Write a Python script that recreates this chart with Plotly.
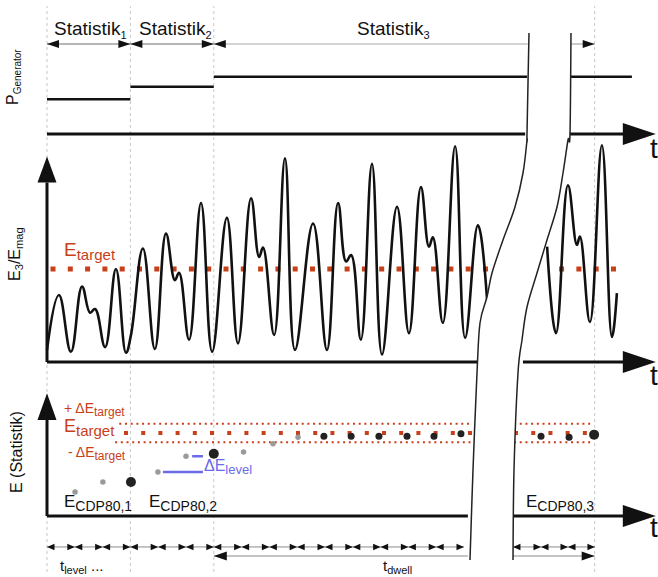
import plotly.graph_objects as go

FONT = "Liberation Sans"
W, H = 658, 577
BLACK = "#111111"
ORANGE = "#c8401a"
BLUE = "#6b6bea"
GRAY_DOT = "#9a9a9a"
DARK_DOT = "#222222"

# ======================= DATA =======================
# time axis in units of t_level (t = 0 at start of Statistik_1); the axis is broken
STAT_BOUNDARY_T = [0, 3, 6, 19.7]
STAT_LABELS = ["Statistik<sub><span style='font-size:11px'>1</span></sub>",
               "Statistik<sub><span style='font-size:11px'>2</span></sub>",
               "Statistik<sub><span style='font-size:11px'>3</span></sub>"]
STAT_ARROW_T0 = [0, 3, 6, 18.85]
STAT_ARROW_T1 = [3, 6, 17.3, 19.7]
STAT_ARROW_LEVEL = 9.0

# generator power steps
P_T0 = [0, 3, 6, 18.85]
P_T1 = [3, 6, 17.27, 21.04]
P_LEVEL = [3.47, 4.73, 5.73, 5.73]

# E3/Emag waveform (before and after the break)
WAVE_L_T = [0.00, 0.43, 0.86, 1.26, 1.55, 1.73, 2.09, 2.48, 2.84, 3.02, 3.45, 3.88, 4.28, 4.60, 4.75,
            5.11, 5.54, 5.94, 6.47, 6.87, 7.34, 7.63, 7.77, 8.17, 8.56, 8.92, 9.57, 10.07, 10.47,
            10.76, 10.94, 11.29, 11.69, 12.05, 12.59, 13.02, 13.45, 13.74, 13.88, 14.24, 14.68,
            15.04, 15.50, 15.83]
WAVE_L_E = [0.13, 0.72, 0.11, 0.81, 0.53, 0.57, 0.16, 1.00, 0.10, 0.29, 1.22, 0.14, 1.38, 0.88, 0.96,
            0.24, 1.71, 0.11, 1.55, 0.20, 1.76, 1.13, 1.23, 0.29, 2.19, 0.13, 1.49, 0.13, 1.71,
            1.08, 1.15, 0.24, 2.13, 0.08, 1.67, 0.31, 1.88, 1.24, 1.34, 0.42, 2.32,
            0.26, 1.47, 0.67]
WAVE_R_T = [17.99, 18.31, 18.74, 19.06, 19.17, 19.53, 19.96, 20.32, 20.50]
WAVE_R_E = [1.24, 0.31, 1.90, 1.26, 1.35, 0.43, 2.33, 0.27, 0.74]

E_TARGET = 1.0
DELTA_E_TARGET = 0.11
TARGET_W_T = [(0.126, 15.94), (18.42, 20.5)]       # E_target line, waveform panel
TARGET_S_T = [(2.77, 15.29), (16.8, 19.46)]         # E_target line, statistic panel
PLUS_S_T = [(2.6, 15.25), (16.8, 19.6)]
MINUS_S_T = [(2.45, 15.25), (16.8, 19.6)]

# statistic values E_CDP80 per t_level
STAT_T = [1.01, 2.01, 3.02, 3.99, 5.0, 6.0, 7.07, 8.13, 9.03, 9.96, 10.94, 11.94, 12.95,
          13.92, 14.89, 17.77, 18.78, 19.68]
STAT_E = [0.29, 0.41, 0.41, 0.53, 0.72, 0.75, 0.77, 0.87, 0.95, 0.96, 0.96, 0.96, 0.96,
          0.96, 0.99, 0.96, 0.95, 0.98]
STAT_KIND = ["g", "g", "B", "g", "g", "B", "g", "g", "g", "d", "d", "d", "d",
             "d", "d", "d", "d", "B"]

# Delta E_level markers
LEVEL_T0 = [4.17, 5.22]
LEVEL_T1 = [5.61, 5.61]
LEVEL_E = [0.53, 0.72]

# t_level grid and t_dwell
TLEVEL_BOUNDS_L = list(range(0, 16))
TLEVEL_BOUNDS_R = [16.76, 17.77, 18.74, 19.71]
TDWELL_L = (6, 15.14)
TDWELL_R = (16.76, 19.7)
TLEVEL_ROW = -0.373
TDWELL_ROW = -0.482

# axis extents (broken axes)
AXIS_SEGMENTS = [("y", 0, 17.2), ("y", 18.78, 20.72),
                 ("y2", 0, 15.47), ("y2", 17.12, 20.72),
                 ("y3", 0, 15.14), ("y3", 16.76, 20.72)]
AXIS_TIP_T = 21.9
YAXIS_TOP = {"y2": (1.93, 2.21), "y3": (1.157, 1.48)}

# ======================= LAYOUT HELPERS =======================
X0_PX, PX_PER_T = 47.0, 27.8
ZERO_PY = {"y": 134.0, "y2": 362.0, "y3": 516.0}
SCALE = {"y": 10.0, "y2": 93.0, "y3": 83.0}


def tpx(t):
    return X0_PX + PX_PER_T * t


def vpy(v, ax):
    return ZERO_PY[ax] - SCALE[ax] * v


def pp(x, y):
    return x / W, 1 - y / H


def tri(tipx, tipy, dx, dy, L, hw, color=BLACK):
    bx, by = tipx - L * dx, tipy - L * dy
    nx, ny = -dy, dx
    pts = [(tipx, tipy), (bx + hw * nx, by + hw * ny), (bx - hw * nx, by - hw * ny)]
    p = [pp(*q) for q in pts]
    path = "M{:.5f},{:.5f} L{:.5f},{:.5f} L{:.5f},{:.5f} Z".format(*p[0], *p[1], *p[2])
    return dict(type="path", xref="paper", yref="paper", path=path, fillcolor=color,
                line=dict(width=0), layer="above")


def smooth(pts):
    pts = [pp(*q) for q in pts]
    d = "M{:.5f},{:.5f}".format(*pts[0])
    n = len(pts)
    for i in range(n - 1):
        p0 = pts[i - 1] if i > 0 else pts[i]
        p1, p2 = pts[i], pts[i + 1]
        p3 = pts[i + 2] if i + 2 < n else pts[i + 1]
        c1 = (p1[0] + (p2[0] - p0[0]) / 6, p1[1] + (p2[1] - p0[1]) / 6)
        c2 = (p2[0] - (p3[0] - p1[0]) / 6, p2[1] - (p3[1] - p1[1]) / 6)
        d += " C{:.5f},{:.5f} {:.5f},{:.5f} {:.5f},{:.5f}".format(*c1, *c2, *p2)
    return d


traces = []


def lines(xs, ys, ax, color, width, dash=None, shape="linear", smoothing=1.0):
    traces.append(go.Scatter(x=xs, y=ys, yaxis=ax, mode="lines",
                             line=dict(color=color, width=width, dash=dash, shape=shape,
                                       smoothing=smoothing),
                             hoverinfo="skip", showlegend=False, connectgaps=False))


def segs(pairs, level, ax, color, width, dash=None):
    xs, ys = [], []
    for a, b in pairs:
        xs += [a, b, None]
        ys += [level, level, None]
    lines(xs, ys, ax, color, width, dash)


shapes = []

# vertical dotted guides
for t in STAT_BOUNDARY_T:
    shapes.append(dict(type="line", xref="x", yref="paper", x0=t, x1=t,
                       y0=pp(0, 572)[1], y1=pp(0, 6)[1],
                       line=dict(color="#c9c9c9", width=1, dash="dot"), layer="below"))

# Statistik arrows
arrow_cols = ["#6e6e6e", "#6e6e6e", "#a8a8a8", "#a8a8a8"]
for i, (a, b) in enumerate(zip(STAT_ARROW_T0, STAT_ARROW_T1)):
    segs([(a, b)], STAT_ARROW_LEVEL, "y", arrow_cols[i], 1.2)
ya = vpy(STAT_ARROW_LEVEL, "y")
for t in [0, 3, 6]:
    shapes.append(tri(tpx(t), ya, -1, 0, 12, 4))
for t in [3, 6]:
    shapes.append(tri(tpx(t), ya, 1, 0, 12, 4))
shapes.append(tri(tpx(STAT_ARROW_T1[-1]), ya, 1, 0, 12, 4))

# generator steps
xs, ys = [], []
for a, b, v in zip(P_T0, P_T1, P_LEVEL):
    xs += [a, b, None]
    ys += [v, v, None]
lines(xs, ys, "y", BLACK, 2.6)

# axes
for ax, a, b in AXIS_SEGMENTS:
    segs([(a, b)], 0, ax, BLACK, 3)
for ax in ["y", "y2", "y3"]:
    shapes.append(tri(tpx(AXIS_TIP_T), vpy(0, ax), 1, 0, 33, 11))
for ax, (base, tip) in YAXIS_TOP.items():
    lines([0, 0], [0, base], ax, BLACK, 3)
    shapes.append(tri(tpx(0), vpy(tip, ax), 0, -1, vpy(base, ax) - vpy(tip, ax), 9.5))

# waveform panel
segs(TARGET_W_T, E_TARGET, "y2", ORANGE, 5, "5px,12.3px")
lines(WAVE_L_T, WAVE_L_E, "y2", BLACK, 2.6, shape="spline", smoothing=1.2)
lines(WAVE_R_T, WAVE_R_E, "y2", BLACK, 2.6, shape="spline", smoothing=1.2)

# statistic panel
segs(PLUS_S_T, E_TARGET + DELTA_E_TARGET, "y3", ORANGE, 2, "2px,3.7px")
segs(MINUS_S_T, E_TARGET - DELTA_E_TARGET, "y3", ORANGE, 2, "2px,3.7px")
segs(TARGET_S_T, E_TARGET, "y3", ORANGE, 4, "4px,13.2px")
xs, ys = [], []
for a, b, v in zip(LEVEL_T0, LEVEL_T1, LEVEL_E):
    xs += [a, b, None]
    ys += [v, v, None]
lines(xs, ys, "y3", BLUE, 2.5)
kind_style = {"g": (GRAY_DOT, 5.5), "d": (DARK_DOT, 7), "B": (DARK_DOT, 10)}
for k, (col, size) in kind_style.items():
    sel = [i for i, kk in enumerate(STAT_KIND) if kk == k]
    traces.append(go.Scatter(x=[STAT_T[i] for i in sel], y=[STAT_E[i] for i in sel], yaxis="y3",
                             mode="markers", marker=dict(color=col, size=size, line=dict(width=0)),
                             hoverinfo="skip", showlegend=False))

# t_level row
bounds_pairs = list(zip(TLEVEL_BOUNDS_L[:-1], TLEVEL_BOUNDS_L[1:])) + \
    list(zip(TLEVEL_BOUNDS_R[:-1], TLEVEL_BOUNDS_R[1:]))
segs(bounds_pairs, TLEVEL_ROW, "y3", "#8a8a8a", 1)
yr = vpy(TLEVEL_ROW, "y3")
for a, b in bounds_pairs:
    shapes.append(tri(tpx(a), yr, -1, 0, 7.5, 3.2))
    shapes.append(tri(tpx(b), yr, 1, 0, 7.5, 3.2))
segs([TDWELL_L, TDWELL_R], TDWELL_ROW, "y3", "#8a8a8a", 1.2)
yd = vpy(TDWELL_ROW, "y3")
shapes.append(tri(tpx(TDWELL_L[0]), yd, -1, 0, 13, 4.5))
shapes.append(tri(tpx(TDWELL_R[1]), yd, 1, 0, 13, 4.5))

# axis break
BREAK_L = [(529, 33), (527, 134), (527, 140), (523, 173), (515, 207), (503, 240), (492, 273),
           (487, 297), (480, 323), (477, 373), (473, 470), (470, 560)]
BREAK_R = [(571, 33), (570, 134), (568, 140), (563, 173), (557, 207), (547, 240), (537, 273),
           (527, 307), (522, 340), (518, 373), (514, 470), (513, 560)]
fill_path = smooth(BREAK_L) + " L" + smooth(BREAK_R[::-1])[1:] + " Z"
shapes.append(dict(type="path", xref="paper", yref="paper", path=fill_path,
                   fillcolor="white", line=dict(width=0), layer="above"))
for br in (BREAK_L, BREAK_R):
    shapes.append(dict(type="path", xref="paper", yref="paper", path=smooth(br),
                       line=dict(color="#222", width=1.5), layer="above"))

# ======================= TEXT =======================
ann = []


def label(text, x, y, size, color=BLACK, xanchor="left", angle=0):
    px_, py_ = pp(x, y)
    ann.append(dict(text=text, x=px_, y=py_, xref="paper", yref="paper", showarrow=False,
                    xanchor=xanchor, yanchor="middle", textangle=angle,
                    font=dict(family=FONT, size=size, color=color)))


label(STAT_LABELS[0], 52, 29, 19)
label(STAT_LABELS[1], 137, 29, 19)
label(STAT_LABELS[2], 355, 29, 19)
for y in (148, 375, 527):
    label("t", 654, y, 28, xanchor="center")
label("P<sub><span style='font-size:10px'>Generator</span></sub>", 14, 77, 16, xanchor="center", angle=-90)
label("E<sub>3</sub>/E<sub>mag</sub>", 15, 254, 16, xanchor="center", angle=-90)
label("E (Statistik)", 16, 452, 16, xanchor="center", angle=-90)
label("E<sub><span style='font-size:15px'>target</span></sub>", 62, 251, 19, ORANGE)
label("+ ΔE<sub><span style='font-size:12px'>target</span></sub>", 62, 409, 14, ORANGE)
label("E<sub><span style='font-size:15px'>target</span></sub>", 62, 427, 18, ORANGE)
label("- ΔE<sub><span style='font-size:12px'>target</span></sub>", 66, 453, 14, ORANGE)
label("ΔE<sub><span style='font-size:13px'>level</span></sub>", 202, 467, 16, BLUE)
label("E<sub><span style='font-size:14px'>CDP80,1</span></sub>", 62, 503, 17)
label("E<sub><span style='font-size:14px'>CDP80,2</span></sub>", 147, 503, 17)
label("E<sub><span style='font-size:14px'>CDP80,3</span></sub>", 524, 503, 17)
label("t<sub><span style='font-size:11px'>level</span></sub> ...", 58, 566, 15)
label("t<sub><span style='font-size:11px'>dwell</span></sub>", 381, 566, 15)

# ======================= FIGURE =======================
fig = go.Figure(data=traces)
xr = [(0 - X0_PX) / PX_PER_T, (W - X0_PX) / PX_PER_T]


def yr_(ax):
    return [(ZERO_PY[ax] - H) / SCALE[ax], ZERO_PY[ax] / SCALE[ax]]


fig.update_layout(
    width=W, height=H, margin=dict(l=0, r=0, t=0, b=0),
    paper_bgcolor="white", plot_bgcolor="white", showlegend=False,
    xaxis=dict(range=xr, visible=False, fixedrange=True, domain=[0, 1]),
    yaxis=dict(range=yr_("y"), visible=False, fixedrange=True, domain=[0, 1]),
    yaxis2=dict(range=yr_("y2"), visible=False, fixedrange=True, overlaying="y", anchor="x"),
    yaxis3=dict(range=yr_("y3"), visible=False, fixedrange=True, overlaying="y", anchor="x"),
    shapes=shapes, annotations=ann, font=dict(family=FONT),
)
fig.write_html("out.html", config={"displayModeBar": False, "staticPlot": True},
               post_script="document.body.style.margin='0';document.body.style.overflow='hidden';")
